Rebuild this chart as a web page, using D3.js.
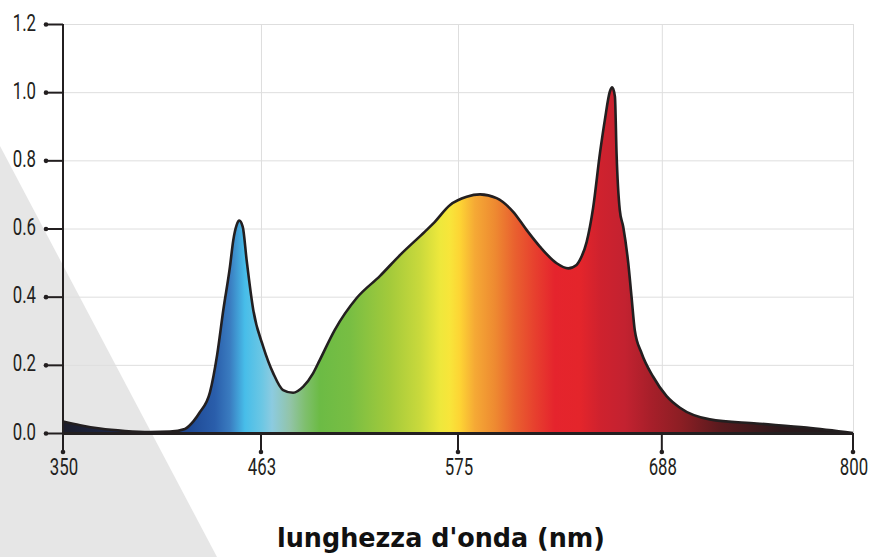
<!DOCTYPE html>
<html><head><meta charset="utf-8">
<script src="https://cdn.jsdelivr.net/npm/d3@7"></script>
<style>
html,body{margin:0;padding:0;background:#fff;}
svg{display:block;}
.tick-lab{font-family:"Roboto","Liberation Sans",sans-serif;font-size:24px;fill:#231f20;}
</style></head>
<body>
<svg id="chart" width="876" height="557"></svg>
<script>
// ---- data ----
const wavelength = [350,359.7,371.1,385.4,399.7,411.1,419.6,424.4,428,433.9,438,441.5,445.3,447.2,449.1,450.6,452.6,454.8,458.6,464.3,470.0,475.6,481.3,487.0,492.6,496.4,504.9,517.4,530.7,542.0,556.2,561.0,570.5,579.8,587.2,596.4,605.6,613.0,620.4,629.7,636.1,640.7,642.6,646.3,649.9,653.7,656.4,659.2,660.5,662.0,662.9,664.7,666.6,669.4,671.2,673.0,676.8,683.2,690.8,698.6,716.1,743.5,772.8,800];
const intensity  = [0.034,0.023,0.013,0.006,0.003,0.004,0.012,0.034,0.06,0.12,0.23,0.361,0.488,0.566,0.610,0.623,0.605,0.508,0.361,0.253,0.175,0.126,0.118,0.136,0.175,0.214,0.302,0.396,0.461,0.522,0.591,0.615,0.669,0.693,0.700,0.689,0.649,0.596,0.547,0.498,0.483,0.493,0.508,0.56,0.66,0.821,0.918,1.002,1.014,0.987,0.821,0.654,0.605,0.498,0.400,0.302,0.234,0.165,0.108,0.074,0.040,0.028,0.016,0.0];
const xTicks = [350,463,575,688,800];
const yTicks = [0.0,0.2,0.4,0.6,0.8,1.0,1.2];
const spectrumNm = [350,388,422.5,436.7,445.3,453.8,463.6,469.3,479.5,488.1,496.4,513.5,536.2,553.3,564.8,570.5,576.1,584.4,595.5,606.6,617.6,628.7,642.6,653.7,667.5,681.4,698.6,722,757.2,800];
const spectrumColor = ["#1c1d2b","#1d2a50","#1f4a96","#2a5eab","#3a7cc0","#47bde9","#6cc7e4","#8ccbe0","#92c4a8","#7fbf6e","#6cbb45","#78be43","#a3ca3b","#c9d93c","#eee83c","#f8e53a","#fdd434","#f5a935","#ee8a31","#e9602f","#e7402e","#e5242d","#e4252b","#cf222e","#c32230","#a81f2a","#8d1e24","#5a1a1e","#2c181b","#1e1c1e"];
const xTitle = "lunghezza d'onda (nm)";

// ---- layout ----
const W = 876, H = 557;
const mLeft = 63, mRight = 853, mTop = 24, mBottom = 433;
const tickPos = [0, 0.2506, 0.5, 0.758, 1];
const condense = 0.7;

const svg = d3.select("#chart");
const x = d3.scaleLinear().domain(xTicks).range(tickPos.map(f => mLeft + f*(mRight-mLeft)));
const y = d3.scaleLinear().domain([0,1.2]).range([mBottom, mTop]);

// background grey triangle
svg.append("path")
  .attr("d", "M0,146 L217," + H + " L0," + H + "Z")
  .attr("fill", "#e6e6e6");

// grid
const grid = svg.append("g").attr("stroke", "#dedede").attr("stroke-width", 1);
grid.selectAll("line.h").data(yTicks.filter(d => d > 0)).join("line")
  .attr("x1", mLeft).attr("x2", mRight)
  .attr("y1", d => y(d)+0.5).attr("y2", d => y(d)+0.5);
grid.selectAll("line.v").data(xTicks.slice(1)).join("line")
  .attr("y1", mTop).attr("y2", mBottom)
  .attr("x1", d => x(d)+0.5).attr("x2", d => x(d)+0.5);

// gradient
const defs = svg.append("defs");
const grad = defs.append("linearGradient").attr("id", "spec")
  .attr("gradientUnits", "userSpaceOnUse")
  .attr("x1", mLeft).attr("x2", mRight).attr("y1", 0).attr("y2", 0);
grad.selectAll("stop").data(spectrumNm).join("stop")
  .attr("offset", d => (x(d)-mLeft)/(mRight-mLeft))
  .attr("stop-color", (d,i) => spectrumColor[i]);

const pts = wavelength.map((w,i) => [w, intensity[i]]);
const area = d3.area().x(d => x(d[0])).y0(y(0)).y1(d => y(d[1])).curve(d3.curveMonotoneX);
const line = d3.line().x(d => x(d[0])).y(d => y(d[1])).curve(d3.curveMonotoneX);

svg.append("path").datum(pts).attr("d", area).attr("fill", "url(#spec)");
svg.append("path").datum(pts).attr("d", line)
  .attr("fill", "none").attr("stroke", "#231f20").attr("stroke-width", 2.6)
  .attr("stroke-linejoin", "round");

// axes
const ax = svg.append("g").attr("stroke", "#231f20");
ax.append("line").attr("x1", mLeft).attr("x2", mRight).attr("y1", mBottom+0.5).attr("y2", mBottom+0.5).attr("stroke-width", 3);
ax.append("line").attr("x1", mLeft).attr("x2", mLeft).attr("y1", mTop).attr("y2", mBottom+19).attr("stroke-width", 2);

// y ticks
const yt = svg.append("g");
yt.selectAll("line").data(yTicks).join("line")
  .attr("x1", mLeft-17).attr("x2", mLeft).attr("y1", d => y(d)+0.5).attr("y2", d => y(d)+0.5)
  .attr("stroke", "#231f20").attr("stroke-width", 2);
yt.selectAll("circle").data(yTicks).join("circle")
  .attr("cx", mLeft-17).attr("cy", d => y(d)+0.5).attr("r", 2.3).attr("fill", "#231f20");
yt.selectAll("text").data(yTicks).join("text")
  .attr("class", "tick-lab")
  .attr("transform", d => `translate(${mLeft-27},${y(d)+6.5}) scale(${condense},1)`)
  .attr("text-anchor", "end")
  .text(d3.format(".1f"));

// x ticks
const xt = svg.append("g");
xt.selectAll("line").data(xTicks).join("line")
  .attr("x1", d => x(d)).attr("x2", d => x(d)).attr("y1", mBottom).attr("y2", mBottom+19)
  .attr("stroke", "#231f20").attr("stroke-width", 2);
xt.selectAll("circle").data(xTicks).join("circle")
  .attr("cx", d => x(d)).attr("cy", mBottom+19).attr("r", 2.3).attr("fill", "#231f20");
xt.selectAll("text").data(xTicks).join("text")
  .attr("class", "tick-lab")
  .attr("transform", d => `translate(${x(d)+1},475) scale(${condense},1)`)
  .attr("text-anchor", "middle")
  .text(d => d);

// title
svg.append("text")
  .attr("x", 441).attr("y", 547)
  .attr("text-anchor", "middle")
  .attr("font-family", "'DejaVu Sans', Lato, sans-serif")
  .attr("font-weight", "bold")
  .attr("font-size", 26)
  .attr("textLength", 328)
  .attr("lengthAdjust", "spacingAndGlyphs")
  .attr("fill", "#111")
  .text(xTitle);
</script>
</body></html>
